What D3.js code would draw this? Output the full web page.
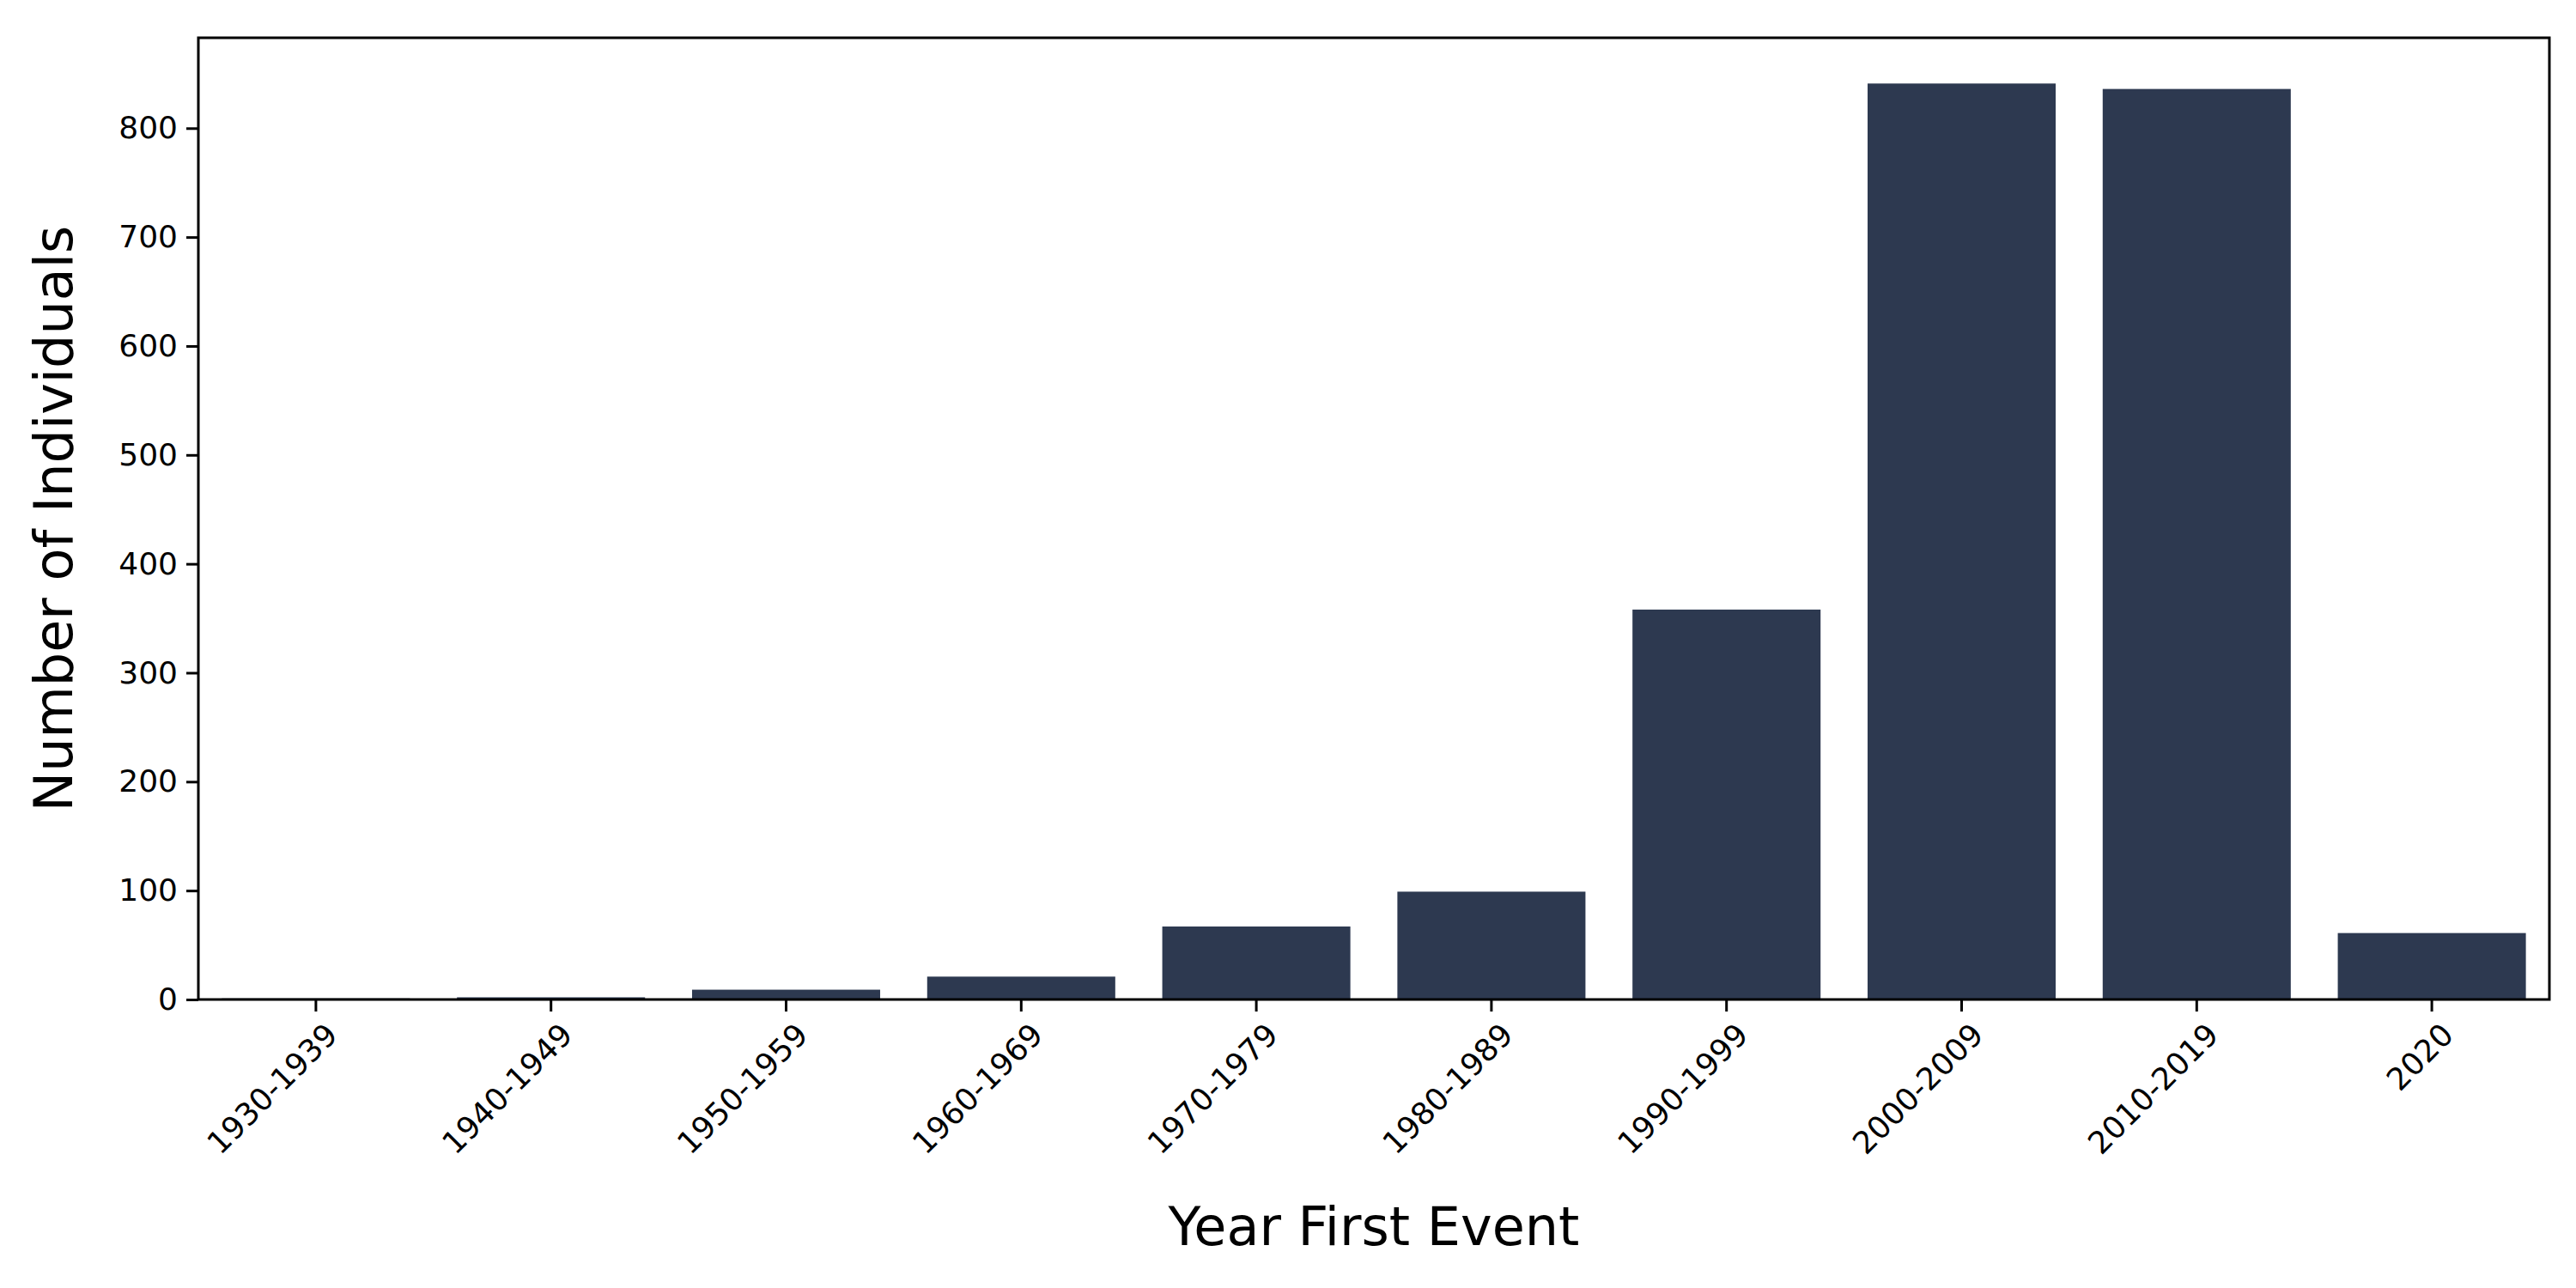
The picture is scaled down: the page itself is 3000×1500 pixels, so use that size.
<!DOCTYPE html>
<html><head><meta charset="utf-8">
<script src="https://cdn.jsdelivr.net/npm/d3@7.9.0/dist/d3.min.js"></script>
<style>body{margin:0;background:#fff}</style>
</head><body>
<svg width="3000" height="1500"></svg>
<script>
// decades and counts
const decades = ['1930-1939','1940-1949','1950-1959','1960-1969','1970-1979','1980-1989','1990-1999','2000-2009','2010-2019','2020'];
const counts = [1, 2, 9, 21, 67, 99, 358, 841, 836, 61];
const yTicks = [0, 100, 200, 300, 400, 500, 600, 700, 800];

const svg = d3.select('svg');
const m = {left: 231, right: 2969, top: 44, bottom: 1164};
const font = 'DejaVu Sans, sans-serif';

const x = d3.scaleBand().domain(decades).range([m.left, m.right]).paddingInner(0.2).paddingOuter(0.1);
const y = d3.scaleLinear().domain([0, 883]).range([m.bottom, m.top]);

svg.append('g').selectAll('rect').data(decades).join('rect')
  .attr('x', d => x(d))
  .attr('width', x.bandwidth())
  .attr('y', (d, i) => y(counts[i]))
  .attr('height', (d, i) => y(0) - y(counts[i]))
  .attr('fill', '#2d3950');

const yAxis = svg.append('g').attr('transform', `translate(${m.left},0)`)
  .call(d3.axisLeft(y).tickValues(yTicks).tickSize(14).tickPadding(10));
yAxis.select('.domain').remove();
yAxis.selectAll('line').attr('stroke-width', 3);
yAxis.selectAll('text').attr('font-size', 36).attr('font-family', font);

const xAxis = svg.append('g').attr('transform', `translate(0,${m.bottom})`)
  .call(d3.axisBottom(x).tickSize(14).tickPadding(8));
xAxis.select('.domain').remove();
xAxis.selectAll('line').attr('stroke-width', 3);
xAxis.selectAll('text').attr('font-size', 36).attr('font-family', font)
  .attr('text-anchor', 'end').attr('dy', '0.7em')
  .attr('transform', 'translate(-6,10) rotate(-45)');

svg.append('rect').attr('x', m.left).attr('y', m.top)
  .attr('width', m.right - m.left).attr('height', m.bottom - m.top)
  .attr('fill', 'none').attr('stroke', '#000').attr('stroke-width', 3);

svg.append('text').attr('x', (m.left + m.right) / 2).attr('y', 1450)
  .attr('text-anchor', 'middle').attr('font-size', 62).attr('font-family', font)
  .text('Year First Event');
svg.append('text').attr('transform', `translate(84,${(m.top + m.bottom) / 2}) rotate(-90)`)
  .attr('text-anchor', 'middle').attr('font-size', 62).attr('font-family', font)
  .text('Number of Individuals');
</script>
</body></html>
